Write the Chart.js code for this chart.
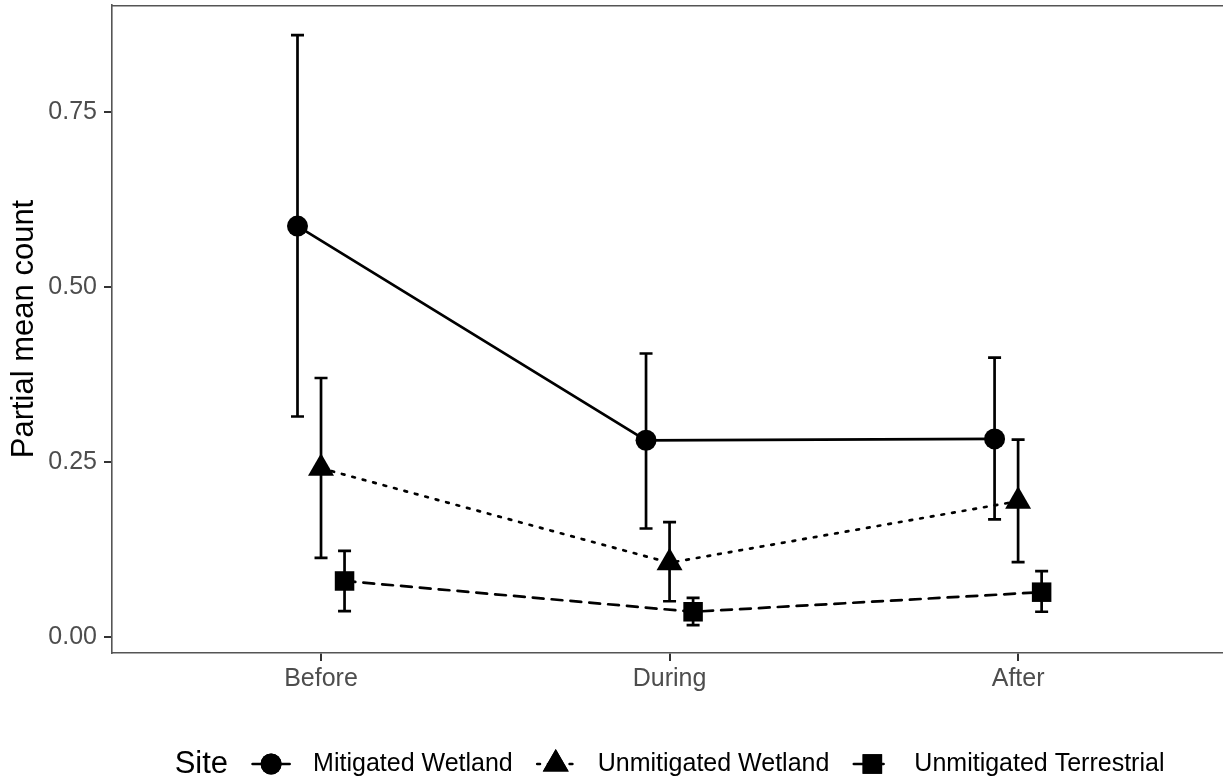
<!DOCTYPE html>
<html>
<head>
<meta charset="utf-8">
<script src="https://cdn.jsdelivr.net/npm/chart.js@4.4.1/dist/chart.umd.min.js"></script>
<style>
  html, body { margin: 0; padding: 0; background: #ffffff; overflow: hidden; }
  #wrap { width: 1223px; height: 782px; }
</style>
</head>
<body>
<div id="wrap"><canvas id="c" width="1223" height="782"></canvas></div>
<script>
// ---- data ----
const categories = ['Before', 'During', 'After'];
const seriesNames = ['Mitigated Wetland', 'Unmitigated Wetland', 'Unmitigated Terrestrial'];
const mitigatedMean  = [0.587, 0.281, 0.283];
const mitigatedLower = [0.315, 0.155, 0.168];
const mitigatedUpper = [0.860, 0.405, 0.399];
const wetlandMean  = [0.241, 0.106, 0.194];
const wetlandLower = [0.113, 0.051, 0.107];
const wetlandUpper = [0.370, 0.164, 0.282];
const terrestrialMean  = [0.080, 0.036, 0.064];
const terrestrialLower = [0.037, 0.017, 0.036];
const terrestrialUpper = [0.123, 0.056, 0.094];
const yTickValues = [0, 0.25, 0.5, 0.75];
const yTickLabels = ['0.00', '0.25', '0.50', '0.75'];
const siteTitle = 'Site';
const yAxisTitle = 'Partial mean count';

// ---- styles ----
const FONT = '"Liberation Sans", Arial, Helvetica, sans-serif';
const TICK_SIZE = 25;
const TITLE_SIZE = 31;
const LW = 2.7;
const dodge = [-0.0675, 0, 0.0675];
const seriesStyle = [
  { pointStyle: 'circle',   radius: 10.5, dash: [] },
  { pointStyle: 'triangle', radius: 15,   dash: [LW, LW * 3] },
  { pointStyle: 'rect',     radius: 13.8, dash: [LW * 4, LW * 3] }
];
const means  = [mitigatedMean, wetlandMean, terrestrialMean];
const lowers = [mitigatedLower, wetlandLower, terrestrialLower];
const uppers = [mitigatedUpper, wetlandUpper, terrestrialUpper];

const datasets = seriesNames.map((name, s) => ({
  label: name,
  data: categories.map((c, i) => ({ x: i + 1 + dodge[s], y: means[s][i] })),
  borderColor: '#000',
  backgroundColor: '#000',
  borderWidth: LW,
  borderDash: seriesStyle[s].dash,
  borderCapStyle: 'round',
  pointStyle: seriesStyle[s].pointStyle,
  pointRadius: seriesStyle[s].radius,
  pointHoverRadius: seriesStyle[s].radius,
  pointBackgroundColor: '#000',
  pointBorderColor: '#000',
  pointBorderWidth: 0,
  tension: 0,
  fill: false,
  clip: false
}));

const errorBars = {
  id: 'errorBars',
  beforeDatasetsDraw(chart) {
    const ctx = chart.ctx, xs = chart.scales.x, ys = chart.scales.y;
    ctx.save();
    ctx.strokeStyle = '#000';
    ctx.lineWidth = LW;
    ctx.lineCap = 'butt';
    seriesNames.forEach((n, s) => {
      categories.forEach((c, i) => {
        const px = xs.getPixelForValue(i + 1 + dodge[s]);
        const lo = ys.getPixelForValue(lowers[s][i]);
        const hi = ys.getPixelForValue(uppers[s][i]);
        ctx.beginPath();
        ctx.moveTo(px, lo); ctx.lineTo(px, hi);
        ctx.moveTo(px - 6.5, lo); ctx.lineTo(px + 6.5, lo);
        ctx.moveTo(px - 6.5, hi); ctx.lineTo(px + 6.5, hi);
        ctx.stroke();
      });
    });
    ctx.restore();
  }
};

const decorations = {
  id: 'decorations',
  afterDraw(chart) {
    const ctx = chart.ctx, a = chart.chartArea;
    ctx.save();
    // top border of panel
    ctx.strokeStyle = '#555';
    ctx.lineWidth = 1.6;
    ctx.beginPath();
    ctx.moveTo(a.left - 0.8, a.top + 0.8);
    ctx.lineTo(chart.width, a.top + 0.8);
    ctx.stroke();

    // y-axis title
    ctx.fillStyle = '#000';
    ctx.font = TITLE_SIZE + 'px ' + FONT;
    ctx.textAlign = 'center';
    ctx.textBaseline = 'middle';
    ctx.translate(24, (a.top + a.bottom) / 2);
    ctx.rotate(-Math.PI / 2);
    ctx.fillText(yAxisTitle, 0, 0);
    ctx.restore();

    // legend
    ctx.save();
    const ly = 764;
    const keyW = 40, gapTitle = 23, keyToText = 62, gapItem = 23;
    ctx.font = TITLE_SIZE + 'px ' + FONT;
    const titleW = ctx.measureText(siteTitle).width;
    ctx.font = TICK_SIZE + 'px ' + FONT;
    const labelW = seriesNames.map(n => ctx.measureText(n).width);
    let total = titleW + gapTitle;
    labelW.forEach((w, i) => { total += keyToText + w + (i < labelW.length - 1 ? gapItem : 0); });
    const center = chart.scales.x.getPixelForValue(2);
    let x = center - total / 2;
    ctx.fillStyle = '#000';
    ctx.textBaseline = 'middle';
    ctx.textAlign = 'left';
    ctx.font = TITLE_SIZE + 'px ' + FONT;
    ctx.fillText(siteTitle, x, ly);
    x += titleW + gapTitle;
    seriesNames.forEach((n, s) => {
      const st = seriesStyle[s];
      ctx.save();
      ctx.strokeStyle = '#000';
      ctx.lineWidth = LW;
      ctx.lineCap = 'round';
      ctx.setLineDash(st.dash);
      ctx.beginPath();
      ctx.moveTo(x + 1.5, ly);
      ctx.lineTo(x + keyW - 1.5, ly);
      ctx.stroke();
      ctx.restore();
      Chart.helpers.drawPoint(ctx, { pointStyle: st.pointStyle, radius: st.radius, borderWidth: 0, rotation: 0 }, x + keyW / 2, ly);
      ctx.fillStyle = '#000';
      ctx.fill();
      ctx.font = TICK_SIZE + 'px ' + FONT;
      ctx.fillText(n, x + keyToText, ly);
      x += keyToText + labelW[s] + gapItem;
    });
    ctx.restore();
  }
};

function zeroPad(scale) {
  scale.paddingTop = 0; scale.paddingBottom = 0;
  scale.paddingLeft = 0; scale.paddingRight = 0;
}

new Chart(document.getElementById('c'), {
  type: 'line',
  data: { datasets },
  plugins: [errorBars, decorations],
  options: {
    responsive: false,
    animation: false,
    events: [],
    layout: { autoPadding: false, padding: { top: 5, left: 0, right: 1, bottom: 0 } },
    plugins: { legend: { display: false }, tooltip: { enabled: false }, title: { display: false } },
    scales: {
      x: {
        type: 'linear',
        min: 0.4003,
        max: 3.585,
        afterFit(scale) { scale.height = 129; zeroPad(scale); },
        afterBuildTicks(scale) { scale.ticks = categories.map((c, i) => ({ value: i + 1 })); },
        ticks: {
          callback: (v, i) => categories[i],
          color: '#4d4d4d',
          font: { family: FONT, size: TICK_SIZE },
          padding: 3,
          maxRotation: 0,
          autoSkip: false
        },
        grid: { display: true, drawOnChartArea: false, drawTicks: true, tickLength: 8, color: '#333', lineWidth: 2 },
        border: { display: true, color: '#555', width: 1.6 }
      },
      y: {
        type: 'linear',
        min: -0.0229,
        max: 0.9029,
        afterFit(scale) { scale.width = 112; zeroPad(scale); },
        afterBuildTicks(scale) { scale.ticks = yTickValues.map(v => ({ value: v })); },
        ticks: {
          callback: (v, i) => yTickLabels[i],
          color: '#4d4d4d',
          font: { family: FONT, size: TICK_SIZE },
          padding: 7,
          autoSkip: false
        },
        grid: { display: true, drawOnChartArea: false, drawTicks: true, tickLength: 8, color: '#333', lineWidth: 2 },
        border: { display: true, color: '#555', width: 1.6 }
      }
    }
  }
});
</script>
</body>
</html>
